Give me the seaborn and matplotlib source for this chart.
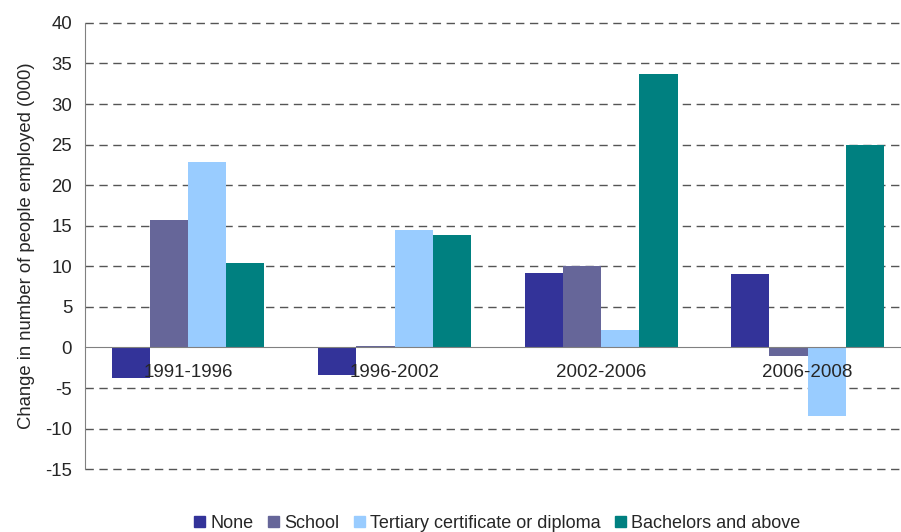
import numpy as np
import pandas as pd
import matplotlib
matplotlib.use('Agg')
import matplotlib.pyplot as plt
import matplotlib.patches as mpatches
import seaborn as sns

# data
periods = ['1991-1996', '1996-2002', '2002-2006', '2006-2008']
levels = ['None', 'School', 'Tertiary certificate or diploma', 'Bachelors and above']
none_vals = [-3.7, -3.45, 9.2, 9.0]
school_vals = [15.7, 0.2, 10.1, -1.1]
tertiary_vals = [22.8, 14.5, 2.2, -8.5]
bachelors_vals = [10.4, 13.9, 33.75, 25.0]
yticks = list(range(-15, 41, 5))

colors = ['#333399', '#666699', '#99CCFF', '#008080']

# long format table for seaborn
df = pd.DataFrame({
    'period': periods * 4,
    'level': [lv for lv in levels for _ in periods],
    'change': none_vals + school_vals + tertiary_vals + bachelors_vals,
})

sns.set_style('white')
plt.rcParams['font.family'] = ['Liberation Sans', 'DejaVu Sans']

fig = plt.figure(figsize=(9.01, 5.32), dpi=100)
ax = fig.add_axes([0.094, 0.118, 0.917, 0.839])

sns.barplot(data=df, x='period', y='change', hue='level', palette=colors,
            hue_order=levels, order=periods, width=0.74, saturation=1,
            gap=0, linewidth=0, edgecolor='none', ax=ax, legend=False)

ax.set_xlim(-0.5, 3.5)
ax.set_ylim(-15, 40)
ax.set_yticks(yticks)
ax.set_yticklabels([str(t) for t in yticks], fontsize=13.4)

# dashed gridlines (skip zero, that's the axis line)
for t in yticks:
    if t != 0:
        ax.axhline(t, color='#555555', lw=1, ls=(0, (6, 4)), zorder=0, clip_on=False)

ax.spines['top'].set_visible(False)
ax.spines['right'].set_visible(False)
ax.spines['left'].set_color('#808080')
ax.spines['bottom'].set_color('#808080')
ax.spines['bottom'].set_position(('data', 0))
ax.spines['bottom'].set_zorder(5)

ax.tick_params(axis='y', length=7, color='#808080', direction='out', pad=2)
ax.set_xticks(range(len(periods)))
ax.set_xticklabels(periods, fontsize=13.5)
ax.tick_params(axis='x', which='major', length=0, pad=12)
ax.set_xticks([0.5, 1.5, 2.5], minor=True)
ax.tick_params(axis='x', which='minor', length=5, color='#404040', direction='out')
ax.xaxis.set_zorder(10)  # period labels sit on top of the bars

ax.set_xlabel('')
ax.set_ylabel('Change in number of people employed (000)', fontsize=13.3, labelpad=7)

handles = [mpatches.Patch(color=c, label=l) for c, l in zip(colors, levels)]
fig.legend(handles=handles, loc='lower center', bbox_to_anchor=(0.552, -0.03),
           ncol=4, frameon=False, fontsize=13, handlelength=0.6, handleheight=0.6,
           handletextpad=0.3, columnspacing=0.8)

fig.savefig('out.png', dpi=100)
